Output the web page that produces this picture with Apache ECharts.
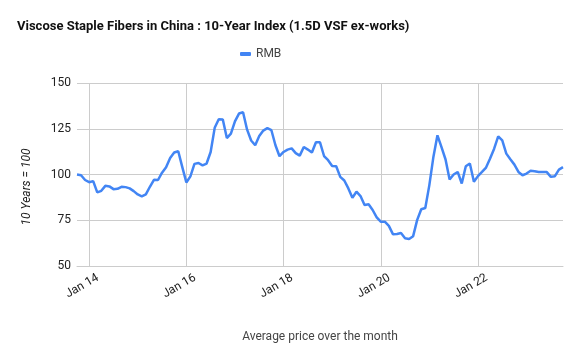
<!DOCTYPE html>
<html>
<head>
<meta charset="utf-8">
<script src="https://cdn.jsdelivr.net/npm/echarts@6/dist/echarts.min.js"></script>
<style>
  html, body { margin: 0; padding: 0; background: #fff; }
  #chart { width: 580px; height: 350px; }
</style>
</head>
<body>
<div id="chart"></div>
<script>
// monthly index, Oct 2013 .. Oct 2023
const months = [];
for (let y = 2013; y <= 2023; y++) {
  for (let m = 1; m <= 12; m++) {
    if (y === 2013 && m < 10) continue;
    if (y === 2023 && m > 10) continue;
    months.push(y + '-' + String(m).padStart(2, '0'));
  }
}

const rmb = [
  100, 99.6, 97,
  95.8, 96.4, 90.2, 91.1, 93.8, 93.5, 92, 92.2, 93.3, 93.1, 92.4, 90.9,
  89.1, 88, 89.1, 93.3, 97.1, 97, 101, 104, 109, 112, 112.7, 104,
  95.6, 99, 105.8, 106.3, 105, 106, 112.3, 125.5, 130.2, 130, 119.9, 122.3,
  129, 133.3, 134, 124.5, 118.6, 116, 121, 124, 125.3, 124.2, 116, 110,
  112.3, 113.6, 114.3, 111.7, 110.3, 115, 113.6, 112, 117.6, 117.6, 110.1, 107.8,
  104.7, 104.5, 98.7, 96.7, 92.4, 87.3, 90.6, 88.2, 83.3, 83.7, 80.6, 76.6,
  74.2, 74.2, 71.9, 67.4, 67.5, 68, 65.2, 64.8, 66.3, 75.2, 81, 81.7,
  94.2, 109.6, 121.4, 115, 108.2, 97.3, 100, 101.4, 95.1, 104.5, 106, 96,
  99.1, 101.4, 103.8, 108.7, 114.1, 120.8, 118.6, 111.4, 108.3, 105.4, 101.4, 99.6,
  100.5, 102, 101.8, 101.4, 101.4, 101.3, 98.7, 99.1, 102.7, 104
];

const yTicks = [50, 75, 100, 125, 150];
const monthNames = ['Jan', 'Feb', 'Mar', 'Apr', 'May', 'Jun', 'Jul', 'Aug', 'Sep', 'Oct', 'Nov', 'Dec'];

// a tick on every January of an even year
const isTick = (idx, val) => {
  const [y, m] = val.split('-').map(Number);
  return m === 1 && y % 2 === 0;
};

const chart = echarts.init(document.getElementById('chart'));

const option = {
  animation: false,
  textStyle: { fontFamily: 'Roboto' },
  title: {
    text: 'Viscose Staple Fibers in China : 10-Year Index (1.5D VSF ex-works)',
    left: 17,
    top: 20,
    padding: 0,
    textStyle: { fontSize: 13, fontWeight: 'bold', color: '#111' }
  },
  legend: {
    data: ['RMB'],
    left: 240,
    top: 48,
    padding: 0,
    icon: 'roundRect',
    itemWidth: 11,
    itemHeight: 4,
    itemGap: 8,
    textStyle: { fontSize: 12, color: '#444' }
  },
  grid: {
    left: 77,
    right: 17,
    top: 83,
    bottom: 84
  },
  xAxis: {
    type: 'category',
    data: months,
    boundaryGap: false,
    name: 'Average price over the month',
    nameLocation: 'middle',
    nameGap: 65,
    nameTextStyle: { fontSize: 12, color: '#444' },
    axisLine: { lineStyle: { color: '#ccc' } },
    axisTick: { show: false },
    axisLabel: {
      interval: isTick,
      rotate: 30,
      margin: 16,
      padding: [0, -10, 0, 0],
      fontSize: 12,
      color: '#222',
      formatter: (val) => {
        const [y, m] = val.split('-').map(Number);
        return monthNames[m - 1] + ' ' + String(y).slice(2);
      }
    },
    splitLine: { show: true, interval: isTick, lineStyle: { color: '#ccc' } }
  },
  yAxis: {
    type: 'value',
    min: yTicks[0],
    max: yTicks[yTicks.length - 1],
    interval: 25,
    axisLine: { show: false },
    axisTick: { show: false },
    axisLabel: { fontSize: 12, color: '#222', margin: 6 },
    splitLine: { lineStyle: { color: '#ccc' } }
  },
  graphic: [{
    type: 'text',
    x: 27,
    y: 187,
    rotation: Math.PI / 2,
    style: {
      text: '10 Years = 100',
      fontFamily: 'Roboto',
      fontSize: 12,
      fontStyle: 'italic',
      fill: '#222',
      textAlign: 'center',
      textVerticalAlign: 'middle'
    }
  }],
  series: [{
    name: 'RMB',
    type: 'line',
    data: rmb,
    showSymbol: false,
    symbol: 'none',
    lineStyle: { color: '#4285f4', width: 2.5 },
    itemStyle: { color: '#4285f4' }
  }]
};

chart.setOption(option);
</script>
</body>
</html>
